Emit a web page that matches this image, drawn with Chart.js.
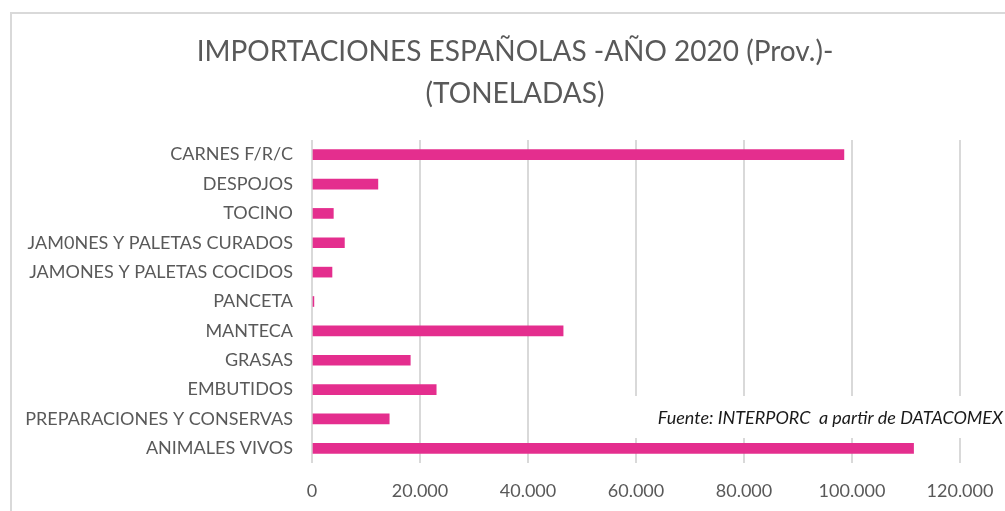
<!DOCTYPE html>
<html lang="es">
<head>
<meta charset="utf-8">
<title>Importaciones españolas 2020</title>
<script src="https://cdn.jsdelivr.net/npm/chart.js@4/dist/chart.umd.min.js"></script>
<style>
  html, body { margin: 0; padding: 0; background: #ffffff; overflow: hidden; }
  body { width: 1005px; height: 511px; position: relative; }
  #frame {
    position: absolute; left: 10px; top: 12px; width: 1030px; height: 520px;
    border: 2px solid #d9d9d9; box-sizing: border-box;
  }
  #wrap { position: absolute; left: 0; top: 0; width: 1030px; height: 511px; }
  canvas { display: block; }
</style>
</head>
<body>
<div id="frame"></div>
<div id="wrap"><canvas id="chart" width="1030" height="511"></canvas></div>
<script>
// Product categories (top to bottom)
const categories = [
  'CARNES F/R/C',
  'DESPOJOS',
  'TOCINO',
  'JAM0NES Y PALETAS CURADOS',
  'JAMONES Y PALETAS COCIDOS',
  'PANCETA',
  'MANTECA',
  'GRASAS',
  'EMBUTIDOS',
  'PREPARACIONES Y CONSERVAS',
  'ANIMALES VIVOS'
];

// Imports in tonnes, 2020 (provisional)
const toneladas = [98500, 12200, 3950, 6000, 3700, 350, 46500, 18200, 23000, 14300, 111400];

// Horizontal axis ticks
const tickValues = [0, 20000, 40000, 60000, 80000, 100000, 120000];

const titleLines = ['IMPORTACIONES ESPAÑOLAS -AÑO 2020 (Prov.)-', '(TONELADAS)'];
const sourceNote = 'Fuente: INTERPORC  a partir de DATACOMEX';

const FONT = 'Lato, "Open Sans", sans-serif';
const TEXT_GREY = '#595959';

function fmtMiles(v) {
  return String(v).replace(/\B(?=(\d{3})+(?!\d))/g, '.');
}

// Two-line title centred on the whole frame (not on the plot)
const frameTitlePlugin = {
  id: 'frameTitle',
  afterDraw(chart) {
    const ctx = chart.ctx;
    ctx.save();
    ctx.font = '28px ' + FONT;
    ctx.fillStyle = TEXT_GREY;
    ctx.textAlign = 'center';
    ctx.textBaseline = 'middle';
    titleLines.forEach((line, i) => ctx.fillText(line, 515, 52 + i * 42));
    ctx.restore();
  }
};

// Source note in a white box over the grid, bottom right
const sourceNotePlugin = {
  id: 'sourceNote',
  afterDraw(chart) {
    const ctx = chart.ctx;
    ctx.save();
    ctx.fillStyle = '#ffffff';
    ctx.fillRect(600, 396, 430, 42);
    ctx.font = 'italic 18px ' + FONT;
    ctx.fillStyle = '#1a1a1a';
    ctx.textAlign = 'right';
    ctx.textBaseline = 'middle';
    ctx.fillText(sourceNote, 1003, 418);
    ctx.restore();
  }
};

new Chart(document.getElementById('chart'), {
  type: 'bar',
  data: {
    labels: categories,
    datasets: [{
      data: toneladas,
      backgroundColor: '#e42e8e',
      borderWidth: 0,
      barThickness: 10
    }]
  },
  options: {
    indexAxis: 'y',
    responsive: false,
    animation: false,
    layout: { padding: { left: 0, right: 70, top: 140, bottom: 0 } },
    plugins: {
      legend: { display: false },
      tooltip: { enabled: false },
      title: { display: false }
    },
    scales: {
      x: {
        min: 0,
        max: 120000,
        afterBuildTicks(scale) { scale.ticks = tickValues.map(v => ({ value: v })); },
        afterFit(scale) { scale.height = 48; },
        grid: { color: '#d9d9d9', lineWidth: 2, drawTicks: false },
        border: { display: false },
        ticks: {
          color: TEXT_GREY,
          font: { family: FONT, size: 18 },
          padding: 17,
          maxRotation: 0,
          callback: v => fmtMiles(v)
        }
      },
      y: {
        afterFit(scale) { scale.width = 312; },
        grid: { display: false },
        border: { display: false },
        ticks: {
          color: TEXT_GREY,
          font: { family: FONT, size: 18 },
          padding: 11
        }
      }
    }
  },
  plugins: [frameTitlePlugin, sourceNotePlugin]
});
</script>
</body>
</html>
